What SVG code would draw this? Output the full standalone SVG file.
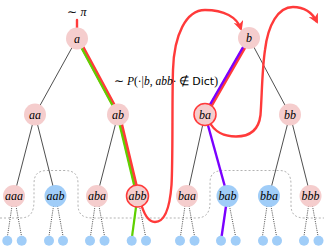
<svg xmlns="http://www.w3.org/2000/svg" width="324" height="249" viewBox="0 0 324 249">
<defs>
<style>
.pk{fill:#f5cdcd;stroke:none}
.bl{fill:#a0cdf8;stroke:none}
.hl{stroke:#ff3a3a;stroke-width:1.5}
.lf{fill:#a0cdf8}
.e{stroke:#222;stroke-width:0.8;fill:none}
.d{stroke:#333;stroke-width:0.9;stroke-dasharray:1 1.2;fill:none}
.red{stroke:#ff3a3a;stroke-width:4;fill:none;stroke-linecap:round}
.grn{stroke:#5fd000;stroke-width:2.2;fill:none}
.pur{stroke:#7a00ff;stroke-width:2.4;fill:none}
.crv{stroke:#ff3a3a;stroke-width:2.4;fill:none}
.bd{stroke:#aaa;stroke-width:0.9;stroke-dasharray:2 2;fill:none}
text{font-family:"Liberation Serif",serif;font-style:italic;font-size:12px;text-anchor:middle}
.sans{font-family:"DejaVu Sans","Liberation Sans",sans-serif;font-style:normal}
.up{font-style:normal}
</style>
<marker id="ah" viewBox="0 0 10 10" refX="8" refY="5" markerWidth="4.2" markerHeight="4.2" orient="auto" markerUnits="strokeWidth">
<path d="M0,0 L10,5 L0,10 L3,5 Z" fill="#ff3a3a"/>
</marker>
</defs>
<path class="bd" d="M0,218 H20 C31,218 34,212 34,200 V184 C34,174 38,170.5 48,170.5 H64 C74,170.5 78,174 78,184 V204 C78,214 82,218 93,218 H196 C206,218 210,213 210,202 V183 C210,174 214,170.5 224,170.5 H279 C288,170.5 291,175 291,185 V205 C291,214 295,218 305,218 H324"/>
<g id="connectors">
<line class="e" x1="77" y1="38.5" x2="35" y2="114.5"/>
<line class="e" x1="249" y1="38" x2="290" y2="114.5"/>
<line class="e" x1="35" y1="114.5" x2="14" y2="196"/>
<line class="e" x1="35" y1="114.5" x2="55.5" y2="196"/>
<line class="e" x1="118" y1="114.5" x2="97" y2="196"/>
<line class="e" x1="205" y1="114.5" x2="187" y2="196"/>
<line class="e" x1="290" y1="114.5" x2="269" y2="196"/>
<line class="e" x1="290" y1="114.5" x2="310.5" y2="196"/>
<g class="d">
<line x1="12" y1="206" x2="7.5" y2="236"/><line x1="16" y1="206" x2="21.5" y2="236"/>
<line x1="53.5" y1="206" x2="49" y2="236"/><line x1="57.5" y1="206" x2="63" y2="236"/>
<line x1="95" y1="206" x2="90.5" y2="236"/><line x1="99" y1="206" x2="104.5" y2="236"/>
<line x1="139.5" y1="206" x2="145.5" y2="236"/>
<line x1="185" y1="206" x2="180.5" y2="236"/><line x1="189" y1="206" x2="194.5" y2="236"/>
<line x1="229.5" y1="206" x2="235.5" y2="236"/>
<line x1="267" y1="206" x2="262.5" y2="236"/><line x1="271" y1="206" x2="276.5" y2="236"/>
<line x1="308.5" y1="206" x2="304" y2="236"/><line x1="312.5" y1="206" x2="318" y2="236"/>
</g>
<line class="red" x1="77" y1="20" x2="77" y2="28" stroke-linecap="butt" style="stroke-width:2.4"/>
<line class="red" x1="77.8" y1="38.5" x2="118.8" y2="114.5"/>
<line class="grn" x1="76.4" y1="38.5" x2="117.4" y2="114.5"/>
<line class="red" x1="118.8" y1="114.5" x2="138.3" y2="196"/>
<line class="grn" x1="117.2" y1="114.5" x2="136.7" y2="196"/>
<line class="grn" x1="137.5" y1="196" x2="131.5" y2="240.5"/>
<line class="red" x1="249.8" y1="38" x2="205.8" y2="114.5"/>
<line class="pur" x1="248.3" y1="38" x2="204.3" y2="114.5"/>
<line class="pur" x1="205" y1="114.5" x2="227.5" y2="196"/>
<line class="pur" x1="227.5" y1="196" x2="221" y2="240.5"/>
<path class="crv" d="M140,200 C143,212 147,222 155,222 C166,222 170,205 171.5,185 C173,160 172,100 173,70 C174,35 186,10 205,10 C224,10 237,17 241,29" marker-end="url(#ah)"/>
<path class="crv" d="M209,121 C214,132 225,136.5 236,136.5 C252,136.5 259,128 260.5,115 C262,95 262,70 265,50 C268,25 278,7 293,7 C306,7 313,14 317,22" marker-end="url(#ah)"/>
</g>
<text x="77" y="16"><tspan class="up">∼</tspan> π</text>
<text x="166" y="85" style="font-size:11.5px"><tspan class="up">∼ </tspan>P<tspan class="up">(·|</tspan>b<tspan class="up">, </tspan>abb<tspan class="up">· ∉ </tspan><tspan class="sans" style="font-size:11px">Dict</tspan><tspan class="up">)</tspan></text>
<g id="n-a"><circle class="pk" cx="77" cy="38.5" r="11"/><text x="77" y="42.5">a</text></g>
<g id="n-b"><circle class="pk" cx="249" cy="38" r="11"/><text x="249" y="42">b</text></g>
<g id="n-aa"><circle class="pk" cx="35" cy="114.5" r="11"/><text x="35" y="118.5">aa</text></g>
<g id="n-ab"><circle class="pk" cx="118" cy="114.5" r="11"/><text x="118" y="118.5">ab</text></g>
<g id="n-ba"><circle class="pk hl" cx="205" cy="114.5" r="11"/><text x="205" y="118.5">ba</text></g>
<g id="n-bb"><circle class="pk" cx="290" cy="114.5" r="11"/><text x="290" y="118.5">bb</text></g>
<g id="n-aaa"><circle class="pk" cx="14" cy="196" r="11"/><text x="14" y="200">aaa</text></g>
<g id="n-aab"><circle class="bl" cx="55.5" cy="196" r="11"/><text x="55.5" y="200">aab</text></g>
<g id="n-aba"><circle class="pk" cx="97" cy="196" r="11"/><text x="97" y="200">aba</text></g>
<g id="n-abb"><circle class="pk hl" cx="137.5" cy="196" r="11"/><text x="137.5" y="200">abb</text></g>
<g id="n-baa"><circle class="pk" cx="187" cy="196" r="11"/><text x="187" y="200">baa</text></g>
<g id="n-bab"><circle class="bl" cx="227.5" cy="196" r="11"/><text x="227.5" y="200">bab</text></g>
<g id="n-bba"><circle class="bl" cx="269" cy="196" r="11"/><text x="269" y="200">bba</text></g>
<g id="n-bbb"><circle class="pk" cx="310.5" cy="196" r="11"/><text x="310.5" y="200">bbb</text></g>
<g id="leaves">
<circle class="lf" cx="7.3" cy="240.7" r="5"/><circle class="lf" cx="21.7" cy="240.7" r="5"/>
<circle class="lf" cx="49" cy="240.7" r="5"/><circle class="lf" cx="63" cy="240.7" r="5"/>
<circle class="lf" cx="90" cy="240.7" r="5"/><circle class="lf" cx="104.5" cy="240.7" r="5"/>
<circle class="lf" cx="131.7" cy="240.7" r="5"/><circle class="lf" cx="146" cy="240.7" r="5"/>
<circle class="lf" cx="180" cy="240.7" r="5"/><circle class="lf" cx="194.5" cy="240.7" r="5"/>
<circle class="lf" cx="221" cy="240.7" r="5"/><circle class="lf" cx="235.7" cy="240.7" r="5"/>
<circle class="lf" cx="263" cy="240.7" r="5"/><circle class="lf" cx="277" cy="240.7" r="5"/>
<circle class="lf" cx="304" cy="240.7" r="5"/><circle class="lf" cx="318.5" cy="240.7" r="5"/>
</g>
</svg>
